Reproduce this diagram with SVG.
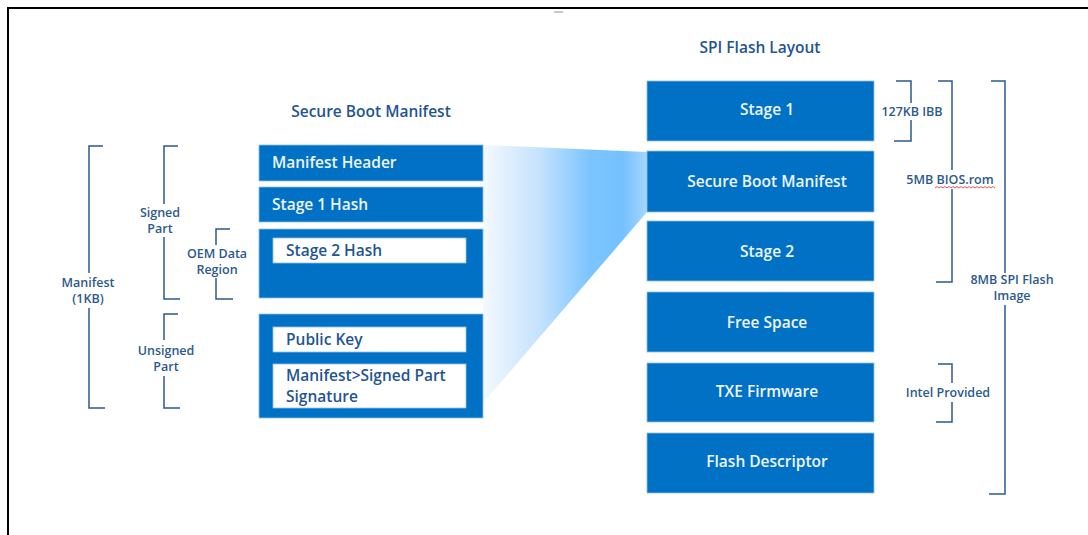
<svg xmlns="http://www.w3.org/2000/svg" width="1088" height="535" viewBox="0 0 1088 535">
<defs>
<linearGradient id="fan" x1="483" y1="0" x2="647" y2="0" gradientUnits="userSpaceOnUse">
<stop offset="0" stop-color="#f4f9ff"/>
<stop offset="0.35" stop-color="#c4e2fc"/>
<stop offset="0.65" stop-color="#7cc4ff"/>
<stop offset="0.85" stop-color="#74c1ff"/>
<stop offset="1" stop-color="#a6d6ff"/>
</linearGradient>
</defs>
<style>
.blk{fill:#0071c5;stroke:#8fc0ea;stroke-width:0.8}
.wht{fill:#ffffff;stroke:#8fc0ea;stroke-width:0.8}
.bt{font-family:"Open Sans","Noto Sans",sans-serif;font-size:15.5px;font-weight:600;fill:#eef5fc}
.wt{font-family:"Open Sans","Noto Sans",sans-serif;font-size:15.5px;font-weight:600;fill:#1f5591}
.ttl{font-family:"Open Sans","Noto Sans",sans-serif;font-size:15.5px;font-weight:600;fill:#1f5591;text-anchor:middle}
.lbl{font-family:"Open Sans","Noto Sans",sans-serif;font-size:12.5px;font-weight:600;fill:#2b5a8c;text-anchor:middle}
.mid{text-anchor:middle}
.br{fill:none;stroke:#2b5a8c;stroke-width:1.5}
</style>
<rect width="1088" height="535" fill="#ffffff"/>
<path d="M8,535 V8 H1088" fill="none" stroke="#000" stroke-width="2"/>
<rect x="554" y="11" width="9" height="2" fill="#c8c8c8"/>

<g id="connectors">
<polygon points="483,145 647,152 647,212 483,403" fill="url(#fan)"/>
</g>

<text class="ttl" x="371" y="117">Secure Boot Manifest</text>
<text class="ttl" x="760" y="53">SPI Flash Layout</text>

<g id="manifest-header"><rect class="blk" x="259" y="145" width="224" height="36"/><text class="bt" x="272" y="168">Manifest Header</text></g>
<g id="stage1-hash"><rect class="blk" x="259" y="187" width="224" height="35"/><text class="bt" x="272" y="210">Stage 1 Hash</text></g>
<g id="oem-region"><rect class="blk" x="259" y="229" width="224" height="69"/>
<g id="stage2-hash"><rect class="wht" x="273" y="238" width="193" height="25"/><text class="wt" x="286" y="256">Stage 2 Hash</text></g></g>
<g id="unsigned-block"><rect class="blk" x="259" y="314" width="224" height="104"/>
<g id="public-key"><rect class="wht" x="273" y="327" width="193" height="25"/><text class="wt" x="286" y="345">Public Key</text></g>
<g id="signature"><rect class="wht" x="273" y="364" width="193" height="44"/><text class="wt" x="286" y="381">Manifest&gt;Signed Part</text><text class="wt" x="286" y="402">Signature</text></g></g>

<g id="flash-stage1"><rect class="blk" x="647" y="81" width="227" height="60"/><text class="bt mid" x="767" y="115">Stage 1</text></g>
<g id="flash-sbm"><rect class="blk" x="647" y="151" width="227" height="61"/><text class="bt mid" x="767" y="187">Secure Boot Manifest</text></g>
<g id="flash-stage2"><rect class="blk" x="647" y="221" width="227" height="60"/><text class="bt mid" x="767" y="257">Stage 2</text></g>
<g id="flash-free"><rect class="blk" x="647" y="292" width="227" height="60"/><text class="bt mid" x="767" y="328">Free Space</text></g>
<g id="flash-txe"><rect class="blk" x="647" y="363" width="227" height="59"/><text class="bt mid" x="767" y="397">TXE Firmware</text></g>
<g id="flash-desc"><rect class="blk" x="647" y="433" width="227" height="60"/><text class="bt mid" x="767" y="467">Flash Descriptor</text></g>

<g id="bracket-manifest">
<path class="br" d="M103,146 H89 V273 M89,308 V408 H105"/>
<text class="lbl" x="88" y="287">Manifest</text><text class="lbl" x="88" y="303">(1KB)</text>
</g>
<g id="bracket-signed">
<path class="br" d="M178,146 H164 V204 M164,237 V299 H180"/>
<text class="lbl" x="160" y="217">Signed</text><text class="lbl" x="160" y="233">Part</text>
</g>
<g id="bracket-oem">
<path class="br" d="M230,229 H216 V245 M216,278 V299 H233"/>
<text class="lbl" x="217" y="258">OEM Data</text><text class="lbl" x="217" y="274">Region</text>
</g>
<g id="bracket-unsigned">
<path class="br" d="M178,314 H164 V340 M164,376 V408 H180"/>
<text class="lbl" x="166" y="355">Unsigned</text><text class="lbl" x="166" y="371">Part</text>
</g>
<g id="bracket-ibb">
<path class="br" d="M896,81 H911 V103 M911,120 V141 H894"/>
<text class="lbl" x="912" y="116">127KB IBB</text>
</g>
<g id="bracket-bios">
<path class="br" d="M938,81 H952 V170 M952,189 V282 H936"/>
<text class="lbl" x="950" y="184">5MB BIOS.rom</text>
<path d="M935,188 l2,-1.5 l2,1.5 l2,-1.5 l2,1.5 l2,-1.5 l2,1.5 l2,-1.5 l2,1.5 l2,-1.5 l2,1.5 l2,-1.5 l2,1.5 l2,-1.5 l2,1.5 l2,-1.5 l2,1.5 l2,-1.5 l2,1.5 l2,-1.5 l2,1.5 l2,-1.5 l2,1.5 l2,-1.5 l2,1.5 l2,-1.5 l2,1.5 l2,-1.5 l2,1.5 l2,-1.5 l2,1.5" fill="none" stroke="#e03030" stroke-width="0.8"/>
</g>
<g id="bracket-spi">
<path class="br" d="M991,81 H1005 V273 M1005,305 V494 H989"/>
<text class="lbl" x="1012" y="284">8MB SPI Flash</text><text class="lbl" x="1012" y="300">Image</text>
</g>
<g id="bracket-intel">
<path class="br" d="M938,364 H952 V383 M952,402 V422 H936"/>
<text class="lbl" x="948" y="397">Intel Provided</text>
</g>
</svg>
